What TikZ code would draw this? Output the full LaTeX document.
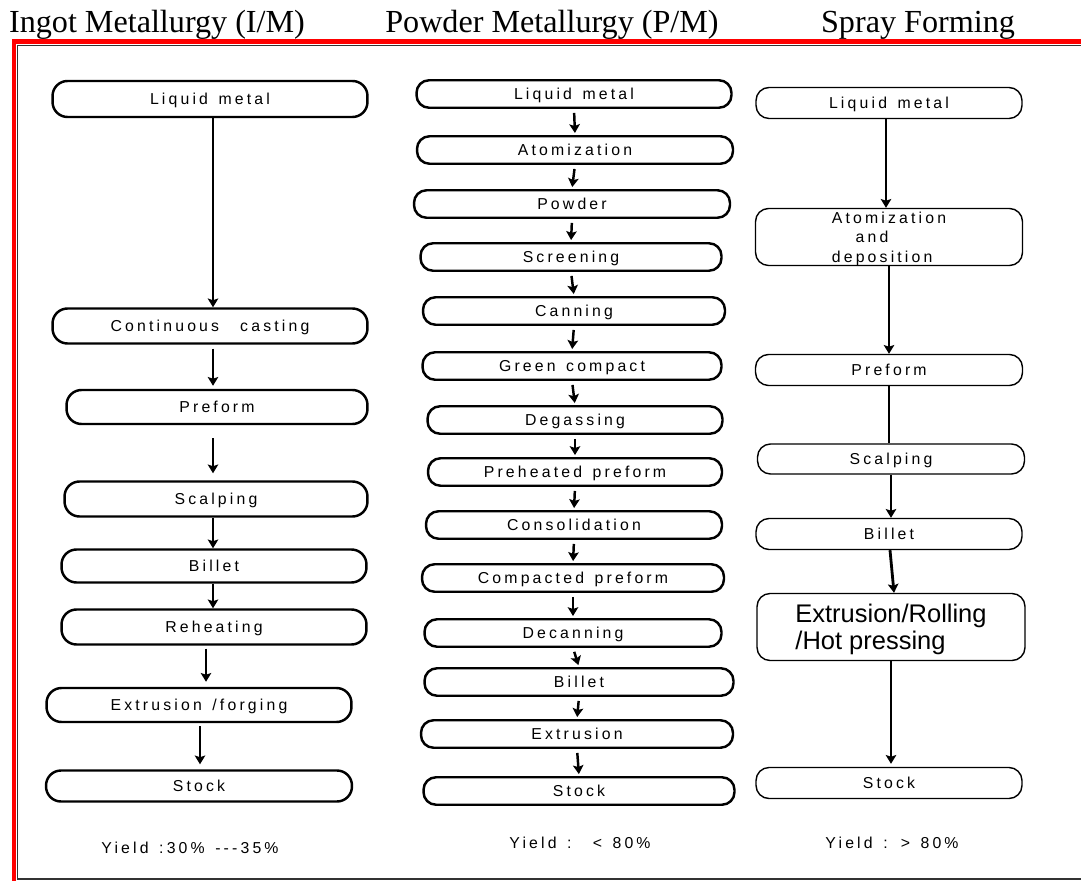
\documentclass[tikz,border=0pt]{standalone}
\usepackage{fontspec}
\setmainfont{Liberation Serif}
\newfontfamily\boxfont[LetterSpace=20, WordSpace=1.4]{Liberation Sans}
\newfontfamily\plainsans{Liberation Sans}
\usetikzlibrary{arrows.meta,positioning}
\definecolor{framegray}{HTML}{333333}
\definecolor{redrule}{HTML}{FF0000}

\begin{document}
\begin{tikzpicture}[
  x=0.02cm, y=-0.02cm,
  every node/.style={inner sep=0pt},
  title/.style={font=\fontsize{18.3}{20}\selectfont, anchor=base},
  label/.style={font=\boxfont\fontsize{9}{11}\selectfont},
  stage/.style={label, draw, line width=1.4pt, rounded corners=0.3cm, text depth=0pt},
  pmstage/.style={stage, rounded corners=0.25cm, minimum height=0.55cm},
  sfstage/.style={label, draw, line width=0.8pt, rounded corners=0.26cm, text depth=0pt},
  arr/.style={-{Stealth[length=5pt, width=6pt, inset=1pt]}, line width=1.4pt},
  sfline/.style={line width=1.6pt},
  sfarr/.style={arr, line width=1.6pt}
]
  \useasboundingbox (0,0) rectangle (1081,881);

  % frame: red rule outside, dark rule inside
  \draw[redrule, line width=2.3pt] (14,881) -- (14,41.5) -- (1081,41.5);
  \draw[framegray, line width=1.1pt] (1081,45.5) -- (17.5,45.5) -- (17.5,879) -- (1081,879);

  % column headings
  \node[title] (im) at (157,33) {Ingot Metallurgy (I/M)};
  \node[title] (pm) at (552,33) {Powder Metallurgy (P/M)};
  \node[title] (sf) at (918,33) {Spray Forming};

  % ---- ingot route
  \node[stage, minimum width=6.3cm, minimum height=0.72cm] (lm1) at (210,99) {Liquid metal};
  \node[stage, minimum width=6.3cm, minimum height=0.7cm] (cc1) at (210,326) {Continuous\ \ casting};
  \node[stage, minimum width=6.02cm, minimum height=0.68cm] (pf1) at (217,407) {Preform};
  \node[stage, minimum width=6.06cm, minimum height=0.7cm] (sc1) at (216,499) {Scalping};
  \node[stage, minimum width=6.1cm, minimum height=0.66cm] (bl1) at (214,566) {Billet};
  \node[stage, minimum width=6.1cm, minimum height=0.7cm] (rh1) at (214,627) {Reheating};
  \node[stage, minimum width=6.1cm, minimum height=0.68cm] (ex1) at (199,705) {Extrusion /forging};
  \node[stage, minimum width=6.12cm, minimum height=0.62cm] (st1) at (199,786) {Stock};

  \draw[arr] ([xshift=0.06cm]lm1.south) -- ([xshift=0.06cm]lm1.south |- cc1.north);
  \draw[arr, shorten <=0.08cm, shorten >=0.06cm] ([xshift=0.06cm]cc1.south) -- ([xshift=0.06cm]cc1.south |- pf1.north);
  \draw[arr, shorten <=0.26cm, shorten >=0.14cm] ([xshift=-0.08cm]pf1.south) -- ([xshift=-0.08cm]pf1.south |- sc1.north);
  \draw[arr] ([xshift=-0.06cm]sc1.south) -- ([xshift=-0.06cm]sc1.south |- bl1.north);
  \draw[arr] ([xshift=-0.02cm]bl1.south) -- ([xshift=-0.02cm]bl1.south |- rh1.north);
  \draw[arr, shorten <=0.06cm, shorten >=0.1cm] ([xshift=-0.16cm]rh1.south) -- ([xshift=-0.16cm]rh1.south |- ex1.north);
  \draw[arr, shorten <=0.06cm, shorten >=0.1cm] ([xshift=0.02cm]ex1.south) -- ([xshift=0.02cm]ex1.south |- st1.north);

  \node[label] (y1) at (190,848) {Yield :30\% ---35\%};

  % ---- powder route
  \foreach \i/\x/\y/\w/\t in {
      1/574/94/6.3/Liquid metal,
      2/575/150/6.32/Atomization,
      3/572/204/6.32/Powder,
      4/571/257/6.02/Screening,
      5/574/311/6.04/Canning,
      6/572/366/5.98/Green compact,
      7/575/420/5.9/Degassing,
      8/575/472/5.88/Preheated preform,
      9/574/525/5.92/Consolidation,
      10/573/578/6.04/Compacted preform,
      11/573/633/5.94/Decanning,
      12/579/682/6.18/Billet,
      13/577/734/6.24/Extrusion,
      14/579/791/6.22/Stock} {
    \node[pmstage, minimum width=\w cm] (pm\i) at (\x,\y) {\t};
  }
  \foreach \i [evaluate=\i as \j using int(\i+1)] in {1,...,13} {
    \draw[arr, shorten <=0.08cm, shorten >=0.04cm] (pm\i.south) -- (pm\j.north);
  }

  \node[label] (y2) at (580,843) {Yield :\ \ < 80\%};

  % ---- spray forming route
  \node[sfstage, minimum width=5.32cm, minimum height=0.62cm] (lm3) at (889,103) {Liquid metal};
  \node[sfstage, minimum width=5.34cm, minimum height=1.14cm, align=left] (ad3) at (889,237)
    {Atomization\\\hspace{1.5em}and\\deposition};
  \node[sfstage, minimum width=5.34cm, minimum height=0.62cm] (pf3) at (889,370) {Preform};
  \node[sfstage, minimum width=5.34cm, minimum height=0.6cm] (sc3) at (891,459) {Scalping};
  \node[sfstage, minimum width=5.32cm, minimum height=0.62cm] (bl3) at (889,534) {Billet};
  \node[sfstage, minimum width=5.36cm, minimum height=1.34cm, align=left,
        font=\plainsans\fontsize{14.5}{15.5}\selectfont] (er3) at (891,627)
    {Extrusion/Rolling\\/Hot pressing};
  \node[sfstage, minimum width=5.32cm, minimum height=0.62cm] (st3) at (889,783) {Stock};

  \draw[sfarr] ([xshift=-0.06cm]lm3.south) -- ([xshift=-0.06cm]lm3.south |- ad3.north);
  \draw[sfarr] (ad3.south) -- (ad3.south |- pf3.north);
  \draw[sfline] (pf3.south) -- (pf3.south |- sc3.north);
  \draw[sfarr] (sc3.south) -- (sc3.south |- bl3.north);
  \draw[sfarr] ([xshift=0.02cm]bl3.south) -- ([xshift=0.06cm]er3.north);
  \draw[sfarr, shorten >=0.06cm] (er3.south) -- (er3.south |- st3.north);

  \node[label] (y3) at (892,843) {Yield : > 80\%};
\end{tikzpicture}
\end{document}
